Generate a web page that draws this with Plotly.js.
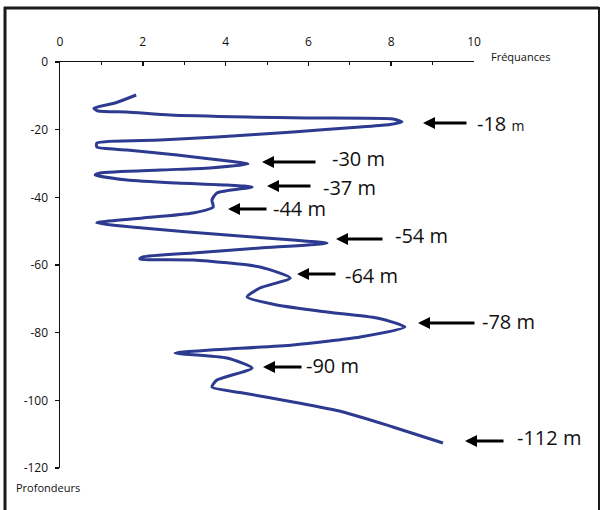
<!DOCTYPE html>
<html>
<head>
<meta charset="utf-8">
<script src="https://cdn.plot.ly/plotly-3.0.1.min.js"></script>
<style>html,body{margin:0;padding:0;background:#fff;}#chart{width:601px;height:510px;}</style>
</head>
<body>
<div id="chart"></div>
<script>
// Data: frequency (x) versus depth (y)
const freq = [1.84,1.33,0.82,0.92,1.62,2.66,4.52,5.97,8.04,8.26,7.97,7.25,5.63,3.79,2.42,0.89,0.89,1.62,2.83,3.86,4.54,3.62,2.42,0.97,0.85,1.62,2.83,4.03,4.64,3.79,3.67,3.70,3.21,2.00,0.97,0.89,2.00,4.03,5.63,6.45,4.83,3.21,2.00,1.93,3.21,4.83,5.56,4.83,4.52,5.24,6.45,7.66,8.33,7.25,5.63,3.62,2.78,4.03,4.64,3.79,3.67,4.42,5.63,6.84,8.04,9.25];
const depth = [-9.75,-12.12,-13.68,-14.48,-14.78,-15.67,-16.26,-16.55,-16.85,-17.73,-18.47,-19.21,-20.69,-22.17,-23.06,-23.94,-25.13,-26.01,-27.49,-28.97,-30.15,-31.33,-31.92,-32.81,-33.40,-34.88,-35.76,-36.35,-36.94,-38.72,-40.79,-42.86,-44.63,-46.11,-47.29,-47.59,-49.07,-51.14,-52.62,-53.50,-54.98,-56.45,-57.64,-58.23,-58.52,-60.59,-63.84,-66.80,-69.46,-71.82,-73.89,-75.67,-78.33,-81.29,-83.65,-85.13,-86.02,-87.49,-90.45,-94.00,-96.07,-97.83,-100.49,-103.45,-107.88,-112.61];

// Marked peaks
const markDepths = [-18, -30, -37, -44, -54, -64, -78, -90, -112];
const markLabels = ['-18 <span style="font-size:14px">m</span>', '-30 m', '-37 m', '-44 m', '-54 m', '-64 m', '-78 m', '-90 m', '-112 m'];

const xTicks = [0, 2, 4, 6, 8, 10];
const yTicks = [0, -20, -40, -60, -80, -100, -120];

// Layout helpers (pixel positions of arrows/labels within the 601x510 frame)
const PL = 60, PR = 474, PT = 62, PB = 468;
const px2paper = p => (p - PL) / (PR - PL);
const py2data = p => -(p - PT) / ((PB - PT) / 120);
const py2paper = p => (PB - p) / (PB - PT);

const arrowPos = [ // tip x, tip y, length, text x, text y (pixels)
  [423, 123, 45, 475, 123],
  [262, 162, 55, 330, 158],
  [267, 186, 45, 321, 187],
  [228, 209, 40, 271, 208],
  [336, 239, 48, 393, 235],
  [297, 274, 40, 343, 275],
  [418, 323, 58, 480, 321],
  [263, 367, 40, 304, 365],
  [465, 441, 40, 515, 437]
];

const annotations = [];
markDepths.forEach((d, i) => {
  const p = arrowPos[i];
  annotations.push({
    xref: 'paper', yref: 'y', x: px2paper(p[0]), y: py2data(p[1]),
    axref: 'pixel', ayref: 'pixel', ax: p[2], ay: 0,
    text: '', showarrow: true, arrowhead: 2, arrowsize: 0.8, arrowwidth: 3, arrowcolor: '#000'
  });
  annotations.push({
    xref: 'paper', yref: 'y', x: px2paper(p[3]), y: py2data(p[4]),
    xanchor: 'left', yanchor: 'middle', showarrow: false,
    text: markLabels[i], font: {family: 'Open Sans, sans-serif', size: 20, color: '#111'}
  });
});
annotations.push({
  xref: 'paper', yref: 'paper', x: px2paper(489), y: py2paper(57), xanchor: 'left', yanchor: 'middle',
  showarrow: false, text: 'Fréquances', font: {family: 'Open Sans, sans-serif', size: 11, color: '#111'}
});
annotations.push({
  xref: 'paper', yref: 'paper', x: px2paper(48), y: py2paper(487), xanchor: 'center', yanchor: 'middle',
  showarrow: false, text: 'Profondeurs', font: {family: 'Open Sans, sans-serif', size: 11, color: '#111'}
});

const frameLine = {color: '#1a1a1a', width: 3};
const shapes = [
  {type: 'line', xref: 'paper', yref: 'paper', x0: px2paper(5), x1: px2paper(5), y0: py2paper(7), y1: py2paper(515), line: frameLine},
  {type: 'line', xref: 'paper', yref: 'paper', x0: px2paper(4), x1: px2paper(599), y0: py2paper(8), y1: py2paper(8), line: frameLine},
  {type: 'line', xref: 'paper', yref: 'paper', x0: px2paper(599), x1: px2paper(599), y0: py2paper(7), y1: py2paper(515), line: {color: '#1a1a1a', width: 2}}
];

const trace = {
  x: freq, y: depth, type: 'scatter', mode: 'lines',
  line: {color: '#2c3a8f', width: 3, shape: 'spline', smoothing: 0.6},
  hoverinfo: 'skip'
};

const tickFont = {family: 'Open Sans, sans-serif', size: 12, color: '#111'};
const layout = {
  width: 601, height: 510,
  margin: {l: PL, r: 601 - PR, t: PT, b: 510 - PB},
  paper_bgcolor: '#fff', plot_bgcolor: '#fff',
  showlegend: false,
  xaxis: {
    side: 'top', range: [0, 10], tickvals: xTicks, ticktext: xTicks.map(String),
    showgrid: false, zeroline: false, showline: true, linecolor: '#111', linewidth: 1.5,
    ticks: 'inside', ticklen: 4, tickwidth: 1.5, tickcolor: '#111',
    minor: {dtick: 1, ticks: 'inside', ticklen: 3, tickwidth: 1, tickcolor: '#111'},
    ticklabelstandoff: 10, tickfont: tickFont, fixedrange: true
  },
  yaxis: {
    range: [-120, 0], tickvals: yTicks, ticktext: yTicks.map(String),
    showgrid: false, zeroline: false, showline: true, linecolor: '#111', linewidth: 1.5,
    ticks: 'outside', ticklen: 4, tickwidth: 1.5, tickcolor: '#111',
    ticklabelstandoff: 4, tickfont: tickFont, fixedrange: true
  },
  annotations: annotations,
  shapes: shapes
};

Plotly.newPlot('chart', [trace], layout, {displayModeBar: false, staticPlot: true});
</script>
</body>
</html>
